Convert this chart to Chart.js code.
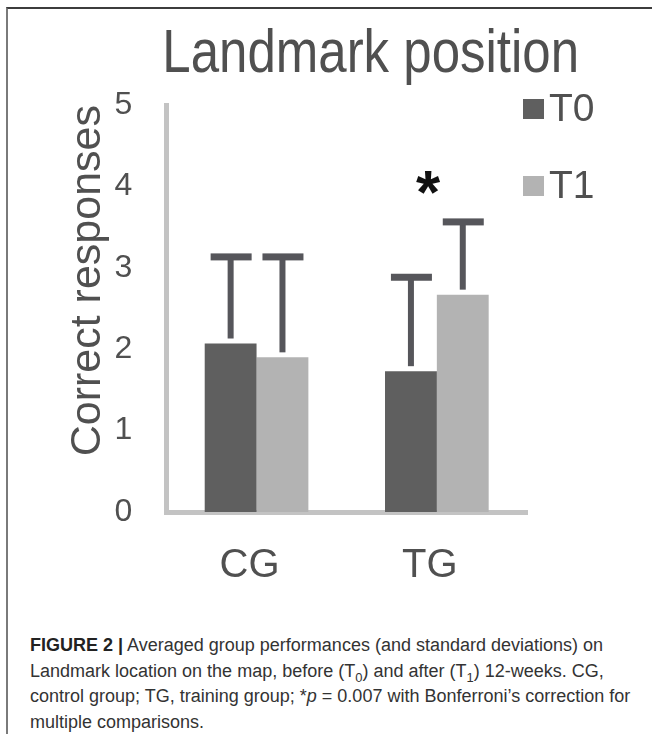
<!DOCTYPE html>
<html>
<head>
<meta charset="utf-8">
<script src="https://cdn.jsdelivr.net/npm/chart.js@4"></script>
<style>
    body { margin: 0; background: #fff; }
    #wrap { position: relative; width: 652px; height: 734px; overflow: hidden; }
    #frame {
        position: absolute; left: 6px; top: 7px; right: -4px; bottom: -4px;
        border-top: 2px solid #3c3c3c; border-left: 2px solid #7a7a7a;
    }
    #chart { position: absolute; left: 0; top: 0; }
    #caption {
        position: absolute; left: 30px; top: 633px; width: 615px;
        font-family: "Liberation Sans", Arial, sans-serif; font-size: 18px;
        line-height: 25.5px; color: #333; white-space: nowrap;
    }
    #caption b { color: #222; }
    #caption sub { font-size: 13px; line-height: 0; }
</style>
</head>
<body>
<div id="wrap">
    <div id="frame"></div>
    <canvas id="chart" width="652" height="620"></canvas>
    <div id="caption"><b>FIGURE 2 |</b> Averaged group performances (and standard deviations) on<br>Landmark location on the map, before (T<sub>0</sub>) and after (T<sub>1</sub>) 12-weeks. CG,<br>control group; TG, training group; *<i>p</i> = 0.007 with Bonferroni’s correction for<br>multiple comparisons.</div>
</div>
<script>
// DATA
const chartTitle = "Landmark position";
const groups = ["CG", "TG"];
const seriesNames = ["T0", "T1"];
const t0Means = [2.07, 1.73];
const t1Means = [1.90, 2.67];
const t0Sd = [1.07, 1.16];
const t1Sd = [1.24, 0.90];
const yTicks = [0, 1, 2, 3, 4, 5];
const starGroup = "TG";
const starValue = 4.0;

const textColor = "#505050";
const barColors = ["#5f5f5f", "#b3b3b3"];
const errColor = "#56565b";
const font = "'Liberation Sans', Arial, sans-serif";

const means = [t0Means, t1Means];
const sds = [t0Sd, t1Sd];

// title (slightly tall, like the original), error bars, star and legend
const extras = {
    id: "extras",
    afterDatasetsDraw(chart) {
        const ctx = chart.ctx;
        const y = chart.scales.y;
        const area = chart.chartArea;
        ctx.save();
        ctx.fillStyle = errColor;
        chart.data.datasets.forEach((ds, i) => {
            chart.getDatasetMeta(i).data.forEach((bar, j) => {
                const yTop = y.getPixelForValue(means[i][j] + sds[i][j]);
                ctx.fillRect(bar.x - 3, yTop, 6, bar.y - 5 - yTop);
                ctx.fillRect(bar.x - 20, yTop - 3, 41, 7);
            });
        });

        // significance star
        const k = groups.indexOf(starGroup);
        const b0 = chart.getDatasetMeta(0).data[k];
        const b1 = chart.getDatasetMeta(1).data[k];
        ctx.fillStyle = "#111";
        ctx.font = "bold 62px " + font;
        ctx.textAlign = "center";
        ctx.textBaseline = "middle";
        ctx.fillText("*", b0.x + (b1.x - b0.x) * 0.33, y.getPixelForValue(starValue) + 10);

        // legend
        ctx.font = "39px " + font;
        ctx.textAlign = "left";
        seriesNames.forEach((name, i) => {
            const cy = area.top + 4 + i * 77;
            ctx.fillStyle = barColors[i];
            ctx.fillRect(area.right - 4, cy - 10, 21, 20);
            ctx.fillStyle = textColor;
            ctx.fillText(name, area.right + 22, cy + 1);
        });

        // title
        ctx.fillStyle = textColor;
        ctx.font = "51px " + font;
        ctx.textAlign = "center";
        ctx.textBaseline = "alphabetic";
        ctx.translate((area.left + area.right) / 2 + 24, area.top - 33);
        ctx.scale(1, 1.2);
        ctx.fillText(chartTitle, 0, 0);
        ctx.restore();
    }
};

new Chart(document.getElementById("chart"), {
    type: "bar",
    data: {
        labels: groups,
        datasets: seriesNames.map((name, i) => ({
            label: name,
            data: means[i],
            backgroundColor: barColors[i],
            barPercentage: 1.0,
            categoryPercentage: 0.575
        }))
    },
    options: {
        responsive: false,
        animation: false,
        devicePixelRatio: 1,
        layout: { padding: { left: 56, right: 125, top: 105, bottom: 0 } },
        plugins: {
            legend: { display: false },
            tooltip: { enabled: false },
            title: { display: false }
        },
        scales: {
            x: {
                grid: { display: false, drawTicks: false },
                border: { display: true, color: "#c3c3c3", width: 5 },
                ticks: { color: textColor, font: { family: font, size: 40 }, padding: 30, labelOffset: -7 }
            },
            y: {
                min: yTicks[0],
                max: yTicks[yTicks.length - 1],
                afterBuildTicks: axis => { axis.ticks = yTicks.map(v => ({ value: v })); },
                grid: { display: false, drawTicks: false },
                border: { display: true, color: "#c3c3c3", width: 5 },
                ticks: { color: textColor, font: { family: font, size: 32 }, padding: 34, stepSize: 1 },
                title: {
                    display: true,
                    text: "Correct responses",
                    align: "end",
                    color: textColor,
                    font: { family: font, size: 43 },
                    // negative bottom padding pulls the tick labels close to the title
                    padding: { top: 6, bottom: -33 }
                }
            }
        }
    },
    plugins: [extras]
});
</script>
</body>
</html>
